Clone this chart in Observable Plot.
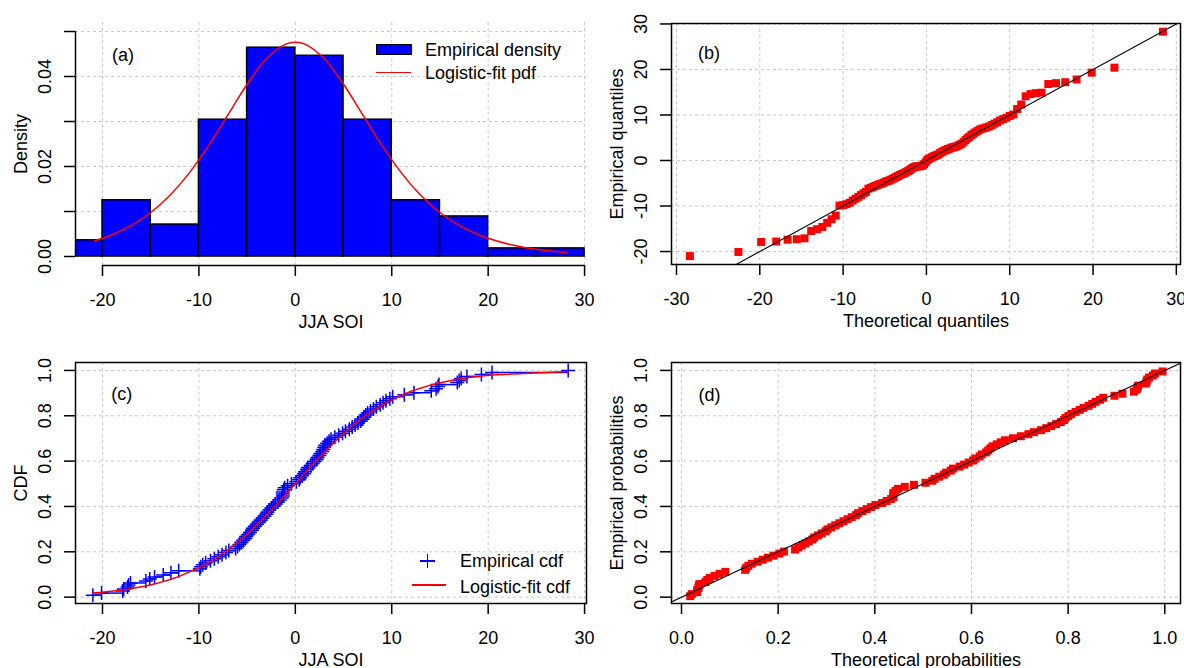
<!DOCTYPE html>
<html><head><meta charset="utf-8">
<script src="https://cdn.jsdelivr.net/npm/d3@7"></script>
<script src="https://cdn.jsdelivr.net/npm/@observablehq/plot@0.6"></script>
<style>
body{margin:0;background:#fff;}
#wrap{position:relative;width:1184px;height:668px;overflow:hidden;font-family:"Liberation Sans",Arial,sans-serif;font-size:18px;color:#000;}
.panel{position:absolute;}
.lg{position:absolute;line-height:18px;white-space:nowrap;font-size:18px;}
.sw{position:absolute;}
</style></head><body>
<div id="wrap">
  <div class="panel" id="pa" style="left:0;top:0"></div>
  <div class="panel" id="pb" style="left:592px;top:0"></div>
  <div class="panel" id="pc" style="left:0;top:334px"></div>
  <div class="panel" id="pd" style="left:592px;top:334px"></div>
  <!-- legend (a) -->
  <div class="sw" style="left:376px;top:44px;width:36px;height:11px;background:#0000ff;border:1.5px solid #000;box-sizing:border-box"></div>
  <div class="lg" style="left:425px;top:41px">Empirical density</div>
  <div class="sw" style="left:376px;top:71.5px;width:35px;height:1.5px;background:#ff0000"></div>
  <div class="lg" style="left:425px;top:64.3px">Logistic-fit pdf</div>
  <!-- legend (c) -->
  <div class="sw" style="left:420px;top:560px;width:14.5px;height:1.5px;background:#0000ff"></div>
  <div class="sw" style="left:426.5px;top:554px;width:1.5px;height:13.5px;background:#0000ff"></div>
  <div class="lg" style="left:460px;top:551.8px">Empirical cdf</div>
  <div class="sw" style="left:412px;top:584px;width:34px;height:1.5px;background:#ff0000"></div>
  <div class="lg" style="left:460px;top:578.4px">Logistic-fit cdf</div>
</div>
<script>
// ---------- data ----------
const binStart = [-25,-20,-15,-10,-5,0,5,10,15,20,25];
const binEnd   = [-20,-15,-10,-5,0,5,10,15,20,25,30];
const density  = [0.0036,0.0125,0.0071,0.0304,0.0464,0.0446,0.0304,0.0125,0.0089,0.0018,0.0018];

const pdfX = [-20.8,-19,-17,-15,-13,-11,-9,-7,-5,-3,-1,0,1,3,5,7,9,11,13,15,17,19,21,23,25,27,28.2];
const pdfY = [0.00349,0.00484,0.00691,0.00978,0.01363,0.01859,0.02463,0.03145,0.03827,0.04393,0.04719,0.04762,0.04719,0.04393,0.03827,0.03145,0.02463,0.01859,0.01363,0.00978,0.00691,0.00484,0.00337,0.00232,0.00160,0.00111,0.00088];

// sorted JJA SOI values
const soi = [-21.0,-20.1,-17.9,-17.8,-17.4,-17.3,-17.1,-15.5,-15.1,-14.6,
 -13.7,-12.9,-12.1,-9.9,-9.8,-9.6,-9.3,-8.8,-8.4,-8.0,
 -7.6,-7.2,-6.9,-6.2,-6.0,-5.8,-5.6,-5.4,-5.2,-5.1,
 -4.9,-4.7,-4.5,-4.4,-4.2,-4.0,-3.8,-3.6,-3.4,-3.2,
 -3.0,-2.9,-2.7,-2.5,-2.3,-2.1,-1.8,-1.6,-1.4,-1.3,
 -1.3,-1.3,-1.2,-1.1,-0.8,-0.4,0.1,0.4,0.5,0.7,
 0.9,1.0,1.2,1.3,1.6,1.8,2.0,2.2,2.3,2.5,
 2.6,2.8,2.9,3.0,3.1,3.3,3.5,3.7,4.1,4.5,
 4.9,5.2,5.6,5.9,6.2,6.5,6.8,7.0,7.1,7.3,
 7.5,7.8,8.1,8.4,8.8,9.1,9.4,9.8,10.1,11.3,
 12.3,14.1,14.6,14.8,14.9,16.8,17.0,17.2,17.8,19.3,
 20.4,28.3];

// theoretical quantiles (panel b, x)
const theoQ = [-28.39,-22.57,-19.84,-18.03,-16.66,-15.56,-14.63,-13.83,-13.12,-12.49,
 -11.91,-11.38,-10.89,-10.43,-10.00,-9.60,-9.22,-8.85,-8.50,-8.17,
 -7.85,-7.55,-7.25,-6.96,-6.68,-6.41,-6.15,-5.89,-5.64,-5.40,
 -5.16,-4.93,-4.70,-4.47,-4.25,-4.03,-3.82,-3.60,-3.39,-3.19,
 -2.98,-2.78,-2.58,-2.38,-2.19,-1.99,-1.80,-1.61,-1.42,-1.22,
 -1.03,-0.85,-0.66,-0.47,-0.28,-0.09,0.09,0.28,0.47,0.66,
 0.85,1.03,1.22,1.42,1.61,1.80,1.99,2.19,2.38,2.58,
 2.78,2.98,3.19,3.39,3.60,3.82,4.03,4.25,4.47,4.70,
 4.93,5.16,5.40,5.64,5.89,6.15,6.41,6.68,6.96,7.25,
 7.55,7.85,8.17,8.50,8.85,9.22,9.60,10.00,10.43,10.89,
 11.38,11.91,12.49,13.12,13.83,14.63,15.56,16.66,18.03,19.84,
 22.57,28.39];

// fitted (theoretical) probabilities at each value (panel c red, panel d x)
const theoP = [.0180,.0213,.0320,.0326,.0351,.0357,.0371,.0496,.0533,.0584,
 .0685,.0789,.0907,.1317,.1339,.1384,.1454,.1576,.1680,.1789,
 .1904,.2024,.2118,.2349,.2418,.2488,.2560,.2634,.2708,.2746,
 .2823,.2900,.2979,.3019,.3100,.3182,.3266,.3350,.3435,.3522,
 .3609,.3653,.3742,.3831,.3922,.4013,.4151,.4244,.4337,.4384,
 .4384,.4384,.4431,.4478,.4620,.4810,.5048,.5190,.5238,.5333,
 .5428,.5475,.5569,.5616,.5756,.5849,.5941,.6033,.6078,.6169,
 .6213,.6303,.6347,.6391,.6435,.6522,.6608,.6693,.6859,.7021,
 .7177,.7292,.7440,.7547,.7651,.7752,.7850,.7914,.7945,.8007,
 .8067,.8154,.8239,.8320,.8424,.8498,.8570,.8661,.8726,.8959,
 .9124,.9362,.9416,.9437,.9447,.9608,.9623,.9636,.9674,.9753,
 .9799,.9955];

// empirical probabilities (panel d, y)
const empP = [.0045,.0134,.0223,.0313,.0402,.0491,.0580,.0670,.0759,.0848,
 .0938,.1027,.1116,.1205,.1295,.1384,.1473,.1563,.1652,.1741,
 .1830,.1920,.2009,.2098,.2188,.2277,.2366,.2455,.2545,.2634,
 .2723,.2813,.2902,.2991,.3080,.3170,.3259,.3348,.3438,.3527,
 .3616,.3705,.3795,.3884,.3973,.4063,.4152,.4241,.4330,.4420,
 .4509,.4598,.4688,.4777,.4866,.4955,.5045,.5134,.5223,.5313,
 .5402,.5491,.5580,.5670,.5759,.5848,.5938,.6027,.6116,.6205,
 .6295,.6384,.6473,.6563,.6652,.6741,.6830,.6920,.7009,.7098,
 .7188,.7277,.7366,.7455,.7545,.7634,.7723,.7813,.7902,.7991,
 .8080,.8170,.8259,.8348,.8438,.8527,.8616,.8705,.8795,.8884,
 .8973,.9063,.9152,.9241,.9330,.9420,.9509,.9598,.9688,.9777,
 .9866,.9955];

// empirical cdf heights (panel c, y)
const ecdfP = [.0089,.0179,.0268,.0357,.0446,.0536,.0625,.0714,.0804,.0893,
 .0982,.1071,.1161,.1250,.1339,.1429,.1518,.1607,.1696,.1786,
 .1875,.1964,.2054,.2143,.2232,.2321,.2411,.2500,.2589,.2679,
 .2768,.2857,.2946,.3036,.3125,.3214,.3304,.3393,.3482,.3571,
 .3661,.3750,.3839,.3929,.4018,.4107,.4196,.4286,.4375,.4464,
 .4554,.4643,.4732,.4821,.4911,.5000,.5089,.5179,.5268,.5357,
 .5446,.5536,.5625,.5714,.5804,.5893,.5982,.6071,.6161,.6250,
 .6339,.6429,.6518,.6607,.6696,.6786,.6875,.6964,.7054,.7143,
 .7232,.7321,.7411,.7500,.7589,.7679,.7768,.7857,.7946,.8036,
 .8125,.8214,.8304,.8393,.8482,.8571,.8661,.8750,.8839,.8929,
 .9018,.9107,.9196,.9286,.9375,.9464,.9554,.9643,.9732,.9821,
 .9911,1.0000];

// ticks & labels
const xTicksSOI = [-20,-10,0,10,20,30];
const xLabelsSOI = ["-20","-10","0","10","20","30"];
const yTicksA = [0,0.01,0.02,0.03,0.04,0.05];
const yLabelsA = ["0.00","","0.02","","0.04",""];
const xTicksQ = [-30,-20,-10,0,10,20,30];
const xLabelsQ = ["-30","-20","-10","0","10","20","30"];
const yTicksQ = [-20,-10,0,10,20,30];
const yLabelsQ = ["-20","-10","0","10","20","30"];
const pTicks = [0,0.2,0.4,0.6,0.8,1.0];
const pLabels = ["0.0","0.2","0.4","0.6","0.8","1.0"];
const refLineB = [-35,35];
const refLineD = [-0.1,1.1];

// scale domains (R-style 4% extension)
const xDomSOI = [-22.8,30.2];
const yDomA = [-0.002,0.052];
const xDomQ = [-30.6,30.5];
const yDomQ = [-22.85,30.1];
const yDomP = [-0.028,1.035];
const xDomP = [-0.0207,1.0325];

// ---------- helpers ----------
const FONT = "'Liberation Sans', Arial, sans-serif";
const gridStyle = {stroke:"#c8c8c8", strokeOpacity:1, strokeDasharray:"3,3", strokeWidth:1};
const style = {fontFamily:FONT, fontSize:"18px", color:"#000", background:"transparent", overflow:"visible"};
const lab = (ticks, labels) => d => labels[ticks.indexOf(d)];
const axX = (ticks, labels) => Plot.axisX({ticks, tickFormat: lab(ticks, labels), tickSize:11, tickPadding:17, fontSize:18, strokeWidth:1.5, label:null});
const axY = (ticks, labels) => Plot.axisY({ticks, tickFormat: lab(ticks, labels), tickSize:11, tickPadding:14, tickRotate:-90, fontSize:18, strokeWidth:1.5, label:null});
const xTitle = (t, dy) => Plot.text([t], {text:d=>d, frameAnchor:"bottom", dy, lineAnchor:"bottom", textAnchor:"middle", fontSize:18});
const yTitle = (t) => Plot.text([t], {text:d=>d, frameAnchor:"left", dx:-49, rotate:-90, lineAnchor:"bottom", textAnchor:"middle", fontSize:18});
const tag = (t, dx, dy) => Plot.text([t], {text:d=>d, frameAnchor:"top-left", dx, dy, textAnchor:"start", lineAnchor:"middle", fontSize:18});
// "+" marker whose arm length equals the dot radius
const plusSymbol = {draw(ctx, size){ const r = Math.sqrt(size / Math.PI); ctx.moveTo(-r,0); ctx.lineTo(r,0); ctx.moveTo(0,-r); ctx.lineTo(0,r); }};

// ---------- panel (a) ----------
const binRows = binStart.map((s,i)=>({x1:s, x2:binEnd[i], y:density[i]}));
const pdfRows = pdfX.map((x,i)=>({x, y:pdfY[i]}));
document.getElementById("pa").append(Plot.plot({
  width:592, height:334, marginLeft:75, marginRight:6, marginTop:22, marginBottom:69,
  x:{domain:xDomSOI}, y:{domain:yDomA}, style,
  marks:[
    Plot.gridX({ticks:xTicksSOI, ...gridStyle}),
    Plot.gridY({ticks:yTicksA, ...gridStyle}),
    Plot.rectY(binRows, {x1:"x1", x2:"x2", y:"y", fill:"#0000ff", stroke:"#000", strokeWidth:1.5, clip:true}),
    Plot.line(pdfRows, {x:"x", y:"y", stroke:"#ff0000", strokeWidth:1.5, curve:"catmull-rom"}),
    Plot.ruleX([xDomSOI[0]], {y1:yTicksA[0], y2:yTicksA[yTicksA.length-1], strokeWidth:1.5}),
    Plot.ruleY([yDomA[0]], {x1:xTicksSOI[0], x2:xTicksSOI[xTicksSOI.length-1], strokeWidth:1.5}),
    axX(xTicksSOI, xLabelsSOI),
    axY(yTicksA, yLabelsA),
    xTitle("JJA SOI", 62),
    yTitle("Density"),
    tag("(a)", 36.5, 32.4)
  ]
}));

// ---------- panel (b) ----------
const qqRows = theoQ.map((q,i)=>({q, e:soi[i]}));
document.getElementById("pb").append(Plot.plot({
  width:592, height:334, marginLeft:79, marginRight:4, marginTop:23, marginBottom:70,
  x:{domain:xDomQ}, y:{domain:yDomQ}, style,
  marks:[
    Plot.gridX({ticks:xTicksQ, ...gridStyle}),
    Plot.gridY({ticks:yTicksQ, ...gridStyle}),
    Plot.dot(qqRows, {x:"q", y:"e", symbol:"square", fill:"#ff0000", r:4.5}),
    Plot.line(refLineB.map(v=>({v})), {x:"v", y:"v", stroke:"#000", strokeWidth:1.1, clip:true}),
    Plot.frame({stroke:"#000", strokeWidth:1.5}),
    axX(xTicksQ, xLabelsQ),
    axY(yTicksQ, yLabelsQ),
    xTitle("Theoretical quantiles", 62),
    yTitle("Empirical quantiles"),
    tag("(b)", 26.5, 29.4)
  ]
}));

// ---------- panel (c) ----------
const segRows = soi.slice(0,-1).map((x,i)=>({x1:x, x2:soi[i+1], y:ecdfP[i]}));
const ecdfRows = soi.map((x,i)=>({x, y:ecdfP[i]}));
const cdfRows = soi.map((x,i)=>({x, y:theoP[i]}));
document.getElementById("pc").append(Plot.plot({
  width:592, height:334, marginLeft:75, marginRight:6, marginTop:28, marginBottom:65,
  x:{domain:xDomSOI}, y:{domain:yDomP}, style,
  marks:[
    Plot.gridX({ticks:xTicksSOI, ...gridStyle}),
    Plot.gridY({ticks:pTicks, ...gridStyle}),
    Plot.ruleY(segRows, {x1:"x1", x2:"x2", y:"y", stroke:"#0000ff", strokeWidth:1.5}),
    Plot.dot(ecdfRows, {x:"x", y:"y", symbol:plusSymbol, stroke:"#0000ff", strokeWidth:1.5, r:7}),
    Plot.line(cdfRows, {x:"x", y:"y", stroke:"#ff0000", strokeWidth:1.5}),
    Plot.frame({stroke:"#000", strokeWidth:1.5}),
    axX(xTicksSOI, xLabelsSOI),
    axY(pTicks, pLabels),
    xTitle("JJA SOI", 62),
    yTitle("CDF"),
    tag("(c)", 35.7, 31.9)
  ]
}));

// ---------- panel (d) ----------
const ppRows = theoP.map((t,i)=>({t, e:empP[i]}));
document.getElementById("pd").append(Plot.plot({
  width:592, height:334, marginLeft:79, marginRight:4, marginTop:28, marginBottom:65,
  x:{domain:xDomP}, y:{domain:yDomP}, style,
  marks:[
    Plot.gridX({ticks:pTicks, ...gridStyle}),
    Plot.gridY({ticks:pTicks, ...gridStyle}),
    Plot.dot(ppRows, {x:"t", y:"e", symbol:"square", fill:"#ff0000", r:4.5}),
    Plot.line(refLineD.map(v=>({v})), {x:"v", y:"v", stroke:"#000", strokeWidth:1.1, clip:true}),
    Plot.frame({stroke:"#000", strokeWidth:1.5}),
    axX(pTicks, pLabels),
    axY(pTicks, pLabels),
    xTitle("Theoretical probabilities", 62),
    yTitle("Empirical probabilities"),
    tag("(d)", 27, 32.6)
  ]
}));
</script>
</body></html>
